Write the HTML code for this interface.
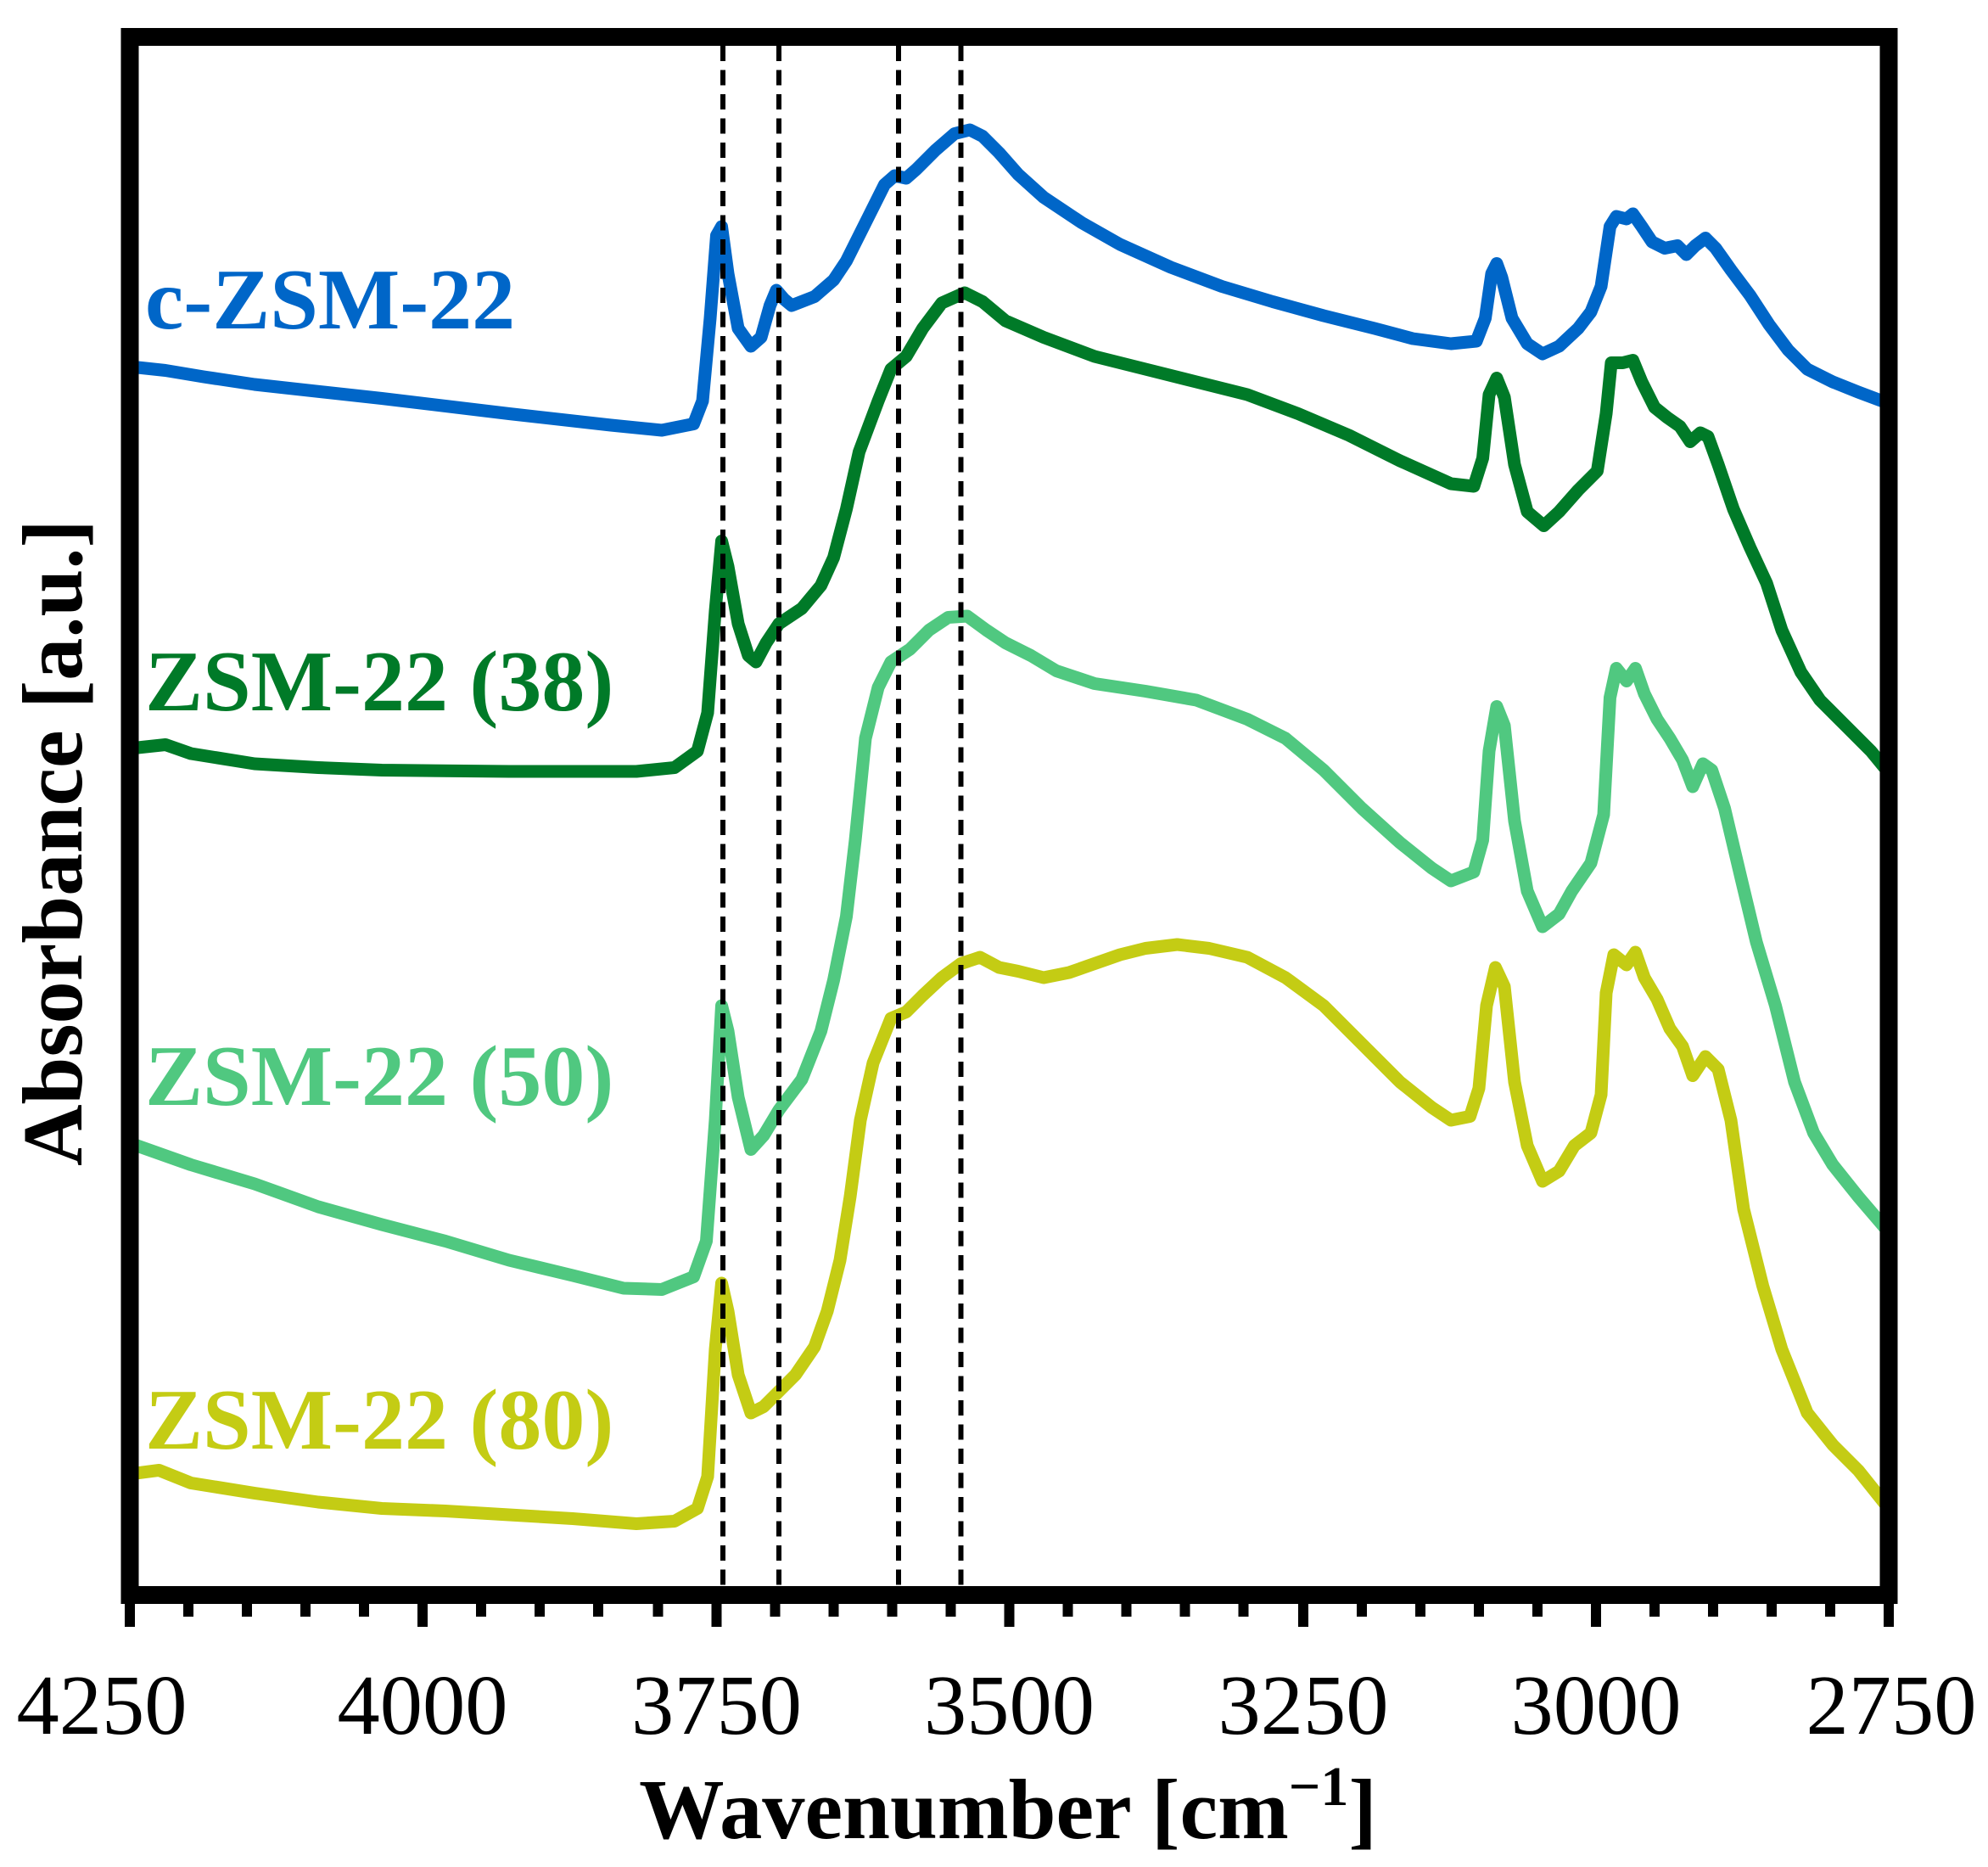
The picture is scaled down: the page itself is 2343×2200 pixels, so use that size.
<!DOCTYPE html>
<html><head><meta charset="utf-8"><style>
html,body{margin:0;padding:0;background:#fff;}
svg{display:block;}
text{font-family:"Liberation Serif","DejaVu Serif",serif;}
</style></head><body>
<svg width="2343" height="2200" viewBox="0 0 1562 1466.67" xmlns="http://www.w3.org/2000/svg">
<rect x="0" y="0" width="1562" height="1466.67" fill="#fff"/>
<g fill="none" stroke-linejoin="round" stroke-linecap="round" stroke-width="10">
<polyline stroke="#0066C8" points="102,288 130,291 160,296 200,302 300,313 400,325 480,334 520,338 545,333 552,315 558,250 563,185 567,178 572,215 580,258 590,272 598,265 605,240 610,228 616,235 622,240 640,233 655,220 665,205 675,185 685,165 695,145 703,138 712,140 720,133 735,118 750,105 762,102 772,107 785,120 800,137 820,155 850,175 880,192 920,210 960,225 1000,237 1040,248 1080,258 1110,266 1140,270 1160,268 1167,250 1172,215 1176,207 1180,218 1188,250 1200,270 1212,278 1225,272 1240,258 1250,245 1258,225 1265,178 1270,170 1278,172 1283,168 1290,178 1298,190 1308,195 1318,193 1325,200 1332,193 1340,187 1348,195 1360,212 1375,232 1390,255 1405,275 1420,290 1440,300 1460,308 1484,317"/>
<polyline stroke="#007A28" points="102,588 130,585 150,592 200,600 250,603 300,605 400,606 500,606 530,603 548,590 556,560 562,480 567,425 572,445 580,490 588,515 594,520 602,505 612,490 630,478 645,460 655,438 665,400 675,355 690,315 700,290 712,280 725,258 740,238 758,230 772,237 790,252 820,265 860,280 900,290 940,300 980,310 1020,325 1060,342 1100,362 1140,380 1158,382 1165,360 1170,310 1176,297 1182,312 1190,365 1200,402 1213,413 1225,402 1240,385 1255,370 1262,325 1266,285 1275,285 1283,283 1290,300 1300,320 1310,328 1320,335 1328,347 1336,340 1342,343 1350,365 1362,400 1375,430 1388,458 1400,495 1415,528 1430,550 1450,570 1470,590 1484,607"/>
<polyline stroke="#50C880" points="102,898 150,915 200,930 250,948 300,962 350,975 400,990 450,1002 490,1012 520,1013 545,1003 555,975 562,880 567,790 572,810 580,862 590,903 600,892 612,872 630,848 645,810 655,770 665,720 672,660 680,580 690,540 700,520 715,510 730,495 745,485 760,484 775,495 790,505 810,515 830,527 860,537 900,543 940,550 980,565 1010,580 1040,605 1070,635 1100,662 1125,682 1140,692 1158,685 1165,660 1170,590 1176,555 1182,570 1190,645 1200,700 1212,728 1225,718 1235,700 1250,678 1260,640 1265,548 1270,525 1278,535 1285,525 1292,545 1302,565 1312,580 1322,597 1330,618 1338,600 1345,605 1355,635 1368,690 1380,740 1395,790 1410,850 1425,890 1440,915 1460,940 1484,968"/>
<polyline stroke="#C4CC14" points="102,1158 125,1155 150,1165 200,1173 250,1180 300,1185 350,1187 400,1190 450,1193 500,1197 530,1195 548,1185 556,1160 562,1060 567,1008 572,1030 580,1080 590,1110 600,1105 612,1093 625,1080 640,1058 650,1030 660,990 668,940 676,880 686,835 700,800 712,795 725,782 740,768 755,757 770,752 785,760 800,763 820,768 840,764 860,757 880,750 900,745 925,742 950,745 980,752 1010,768 1040,790 1070,820 1100,850 1125,870 1140,880 1155,877 1162,855 1168,790 1175,760 1182,775 1190,850 1200,900 1212,928 1225,920 1237,900 1250,890 1258,860 1262,780 1268,750 1278,758 1285,748 1292,768 1302,785 1312,808 1322,822 1330,845 1340,830 1350,840 1360,880 1370,950 1385,1010 1400,1060 1420,1110 1440,1135 1460,1155 1484,1185"/>
</g>
<g stroke="#000" stroke-width="4" stroke-dasharray="12,7">
<line x1="568" y1="36" x2="568" y2="1246"/>
<line x1="612" y1="36" x2="612" y2="1246"/>
<line x1="706" y1="36" x2="706" y2="1246"/>
<line x1="755" y1="36" x2="755" y2="1246"/>
</g>
<rect x="102" y="29" width="1382" height="1224" fill="none" stroke="#000" stroke-width="14"/>
<g stroke="#000" stroke-width="8">
<line x1="102" y1="1253" x2="102" y2="1278"/><line x1="148" y1="1253" x2="148" y2="1270"/><line x1="194" y1="1253" x2="194" y2="1270"/><line x1="240" y1="1253" x2="240" y2="1270"/><line x1="286" y1="1253" x2="286" y2="1270"/>
<line x1="332" y1="1253" x2="332" y2="1278"/><line x1="378" y1="1253" x2="378" y2="1270"/><line x1="424" y1="1253" x2="424" y2="1270"/><line x1="470" y1="1253" x2="470" y2="1270"/><line x1="517" y1="1253" x2="517" y2="1270"/>
<line x1="563" y1="1253" x2="563" y2="1278"/><line x1="609" y1="1253" x2="609" y2="1270"/><line x1="655" y1="1253" x2="655" y2="1270"/><line x1="701" y1="1253" x2="701" y2="1270"/><line x1="747" y1="1253" x2="747" y2="1270"/>
<line x1="793" y1="1253" x2="793" y2="1278"/><line x1="839" y1="1253" x2="839" y2="1270"/><line x1="885" y1="1253" x2="885" y2="1270"/><line x1="931" y1="1253" x2="931" y2="1270"/><line x1="977" y1="1253" x2="977" y2="1270"/>
<line x1="1024" y1="1253" x2="1024" y2="1278"/><line x1="1070" y1="1253" x2="1070" y2="1270"/><line x1="1116" y1="1253" x2="1116" y2="1270"/><line x1="1162" y1="1253" x2="1162" y2="1270"/><line x1="1208" y1="1253" x2="1208" y2="1270"/>
<line x1="1254" y1="1253" x2="1254" y2="1278"/><line x1="1300" y1="1253" x2="1300" y2="1270"/><line x1="1346" y1="1253" x2="1346" y2="1270"/><line x1="1392" y1="1253" x2="1392" y2="1270"/><line x1="1438" y1="1253" x2="1438" y2="1270"/>
<line x1="1484" y1="1253" x2="1484" y2="1278"/>
</g>
<g font-size="67" text-anchor="middle" fill="#000">
<text x="80" y="1362">4250</text>
<text x="332" y="1362">4000</text>
<text x="563" y="1362">3750</text>
<text x="793" y="1362">3500</text>
<text x="1024" y="1362">3250</text>
<text x="1254" y="1362">3000</text>
<text x="1486" y="1362">2750</text>
</g>
<text x="792" y="1444" font-size="67" font-weight="bold" text-anchor="middle">Wavenumber [cm<tspan dy="-26" font-size="44">−1</tspan><tspan dy="26">]</tspan></text>
<text transform="translate(64,662) rotate(-90)" font-size="67" font-weight="bold" text-anchor="middle">Absorbance [a.u.]</text>
<g font-size="68" font-weight="bold">
<text x="114" y="258" fill="#0066C8">c-ZSM-22</text>
<text x="114" y="558" fill="#007A28">ZSM-22 (38)</text>
<text x="114" y="868" fill="#50C880">ZSM-22 (50)</text>
<text x="114" y="1138" fill="#C4CC14">ZSM-22 (80)</text>
</g>
</svg>
</body></html>
